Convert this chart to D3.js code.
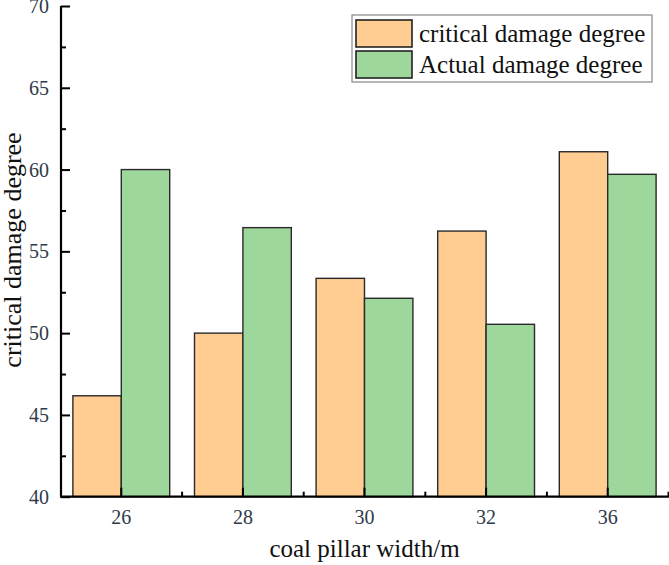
<!DOCTYPE html>
<html><head><meta charset="utf-8">
<script src="https://cdn.jsdelivr.net/npm/d3@7"></script>
<style>html,body{margin:0;padding:0;background:#fff;}svg{display:block;}</style>
</head><body>
<script>
const categories = ["26", "28", "30", "32", "36"];
const seriesNames = ["critical damage degree", "Actual damage degree"];
const criticalValues = [46.17, 50.0, 53.35, 56.24, 61.09];
const actualValues = [60.0, 56.45, 52.13, 50.54, 59.71];
const yTickValues = [40, 45, 50, 55, 60, 65, 70];
const colors = ["#FFCC91", "#9DD79B"];

const W = 669, H = 565;
const svg = d3.select("body").append("svg").attr("width", W).attr("height", H);
const font = "'Liberation Serif','Times New Roman',serif";

const x0 = d3.scaleBand().domain(categories).range([60.5, 668.5]).paddingInner(0).paddingOuter(0);
const x1 = d3.scaleBand().domain(seriesNames).range([0, x0.bandwidth()]).paddingInner(0).paddingOuter(0.256);
const y = d3.scaleLinear().domain([40, 70]).range([496.7, 6]);

const data = categories.map((c, i) => ({cat: c, vals: [criticalValues[i], actualValues[i]]}));

// bars
const g = svg.append("g");
data.forEach(d => {
  d.vals.forEach((v, j) => {
    g.append("rect")
      .attr("x", x0(d.cat) + x1(seriesNames[j]))
      .attr("y", y(v))
      .attr("width", x1.bandwidth())
      .attr("height", y(40) - y(v))
      .attr("fill", colors[j])
      .attr("stroke", "#2a2a2a")
      .attr("stroke-width", 1.4);
  });
});

// y axis
const yAxis = d3.axisRight(y).tickValues(yTickValues).tickSize(9).tickFormat("");
const ya = svg.append("g").attr("transform", "translate(61,0)").call(yAxis);
ya.select(".domain").attr("stroke", "#000").attr("stroke-width", 2.2).attr("d", `M0,${y(70)}V${y(40)}`);
ya.selectAll(".tick line").attr("stroke", "#000").attr("stroke-width", 2);
const yMinor = d3.axisRight(y).tickValues([42.5, 47.5, 52.5, 57.5, 62.5, 67.5]).tickSize(5).tickFormat("");
const ym = svg.append("g").attr("transform", "translate(61,0)").call(yMinor);
ym.select(".domain").remove();
ym.selectAll(".tick line").attr("stroke", "#000").attr("stroke-width", 2);
svg.append("g").selectAll("text").data(yTickValues).join("text")
  .attr("x", 49).attr("y", d => y(d)).attr("dy", "0.35em")
  .attr("text-anchor", "end").attr("font-family", font).attr("font-size", 20)
  .attr("fill", "#2f3a4a").text(d => d);

// x axis
const xb = svg.append("g").attr("transform", `translate(0,${y(40)})`);
xb.append("path").attr("d", `M60,0H669`).attr("stroke", "#000").attr("stroke-width", 2.2).attr("fill", "none");
xb.selectAll("line.maj").data(categories).join("line")
  .attr("x1", d => x0(d) + x0.bandwidth() / 2).attr("x2", d => x0(d) + x0.bandwidth() / 2)
  .attr("y1", 0).attr("y2", -9).attr("stroke", "#000").attr("stroke-width", 2);
xb.selectAll("line.min").data(categories).join("line")
  .attr("x1", d => x0(d) + x0.bandwidth()).attr("x2", d => x0(d) + x0.bandwidth())
  .attr("y1", 0).attr("y2", -5).attr("stroke", "#000").attr("stroke-width", 2);
xb.selectAll("text").data(categories).join("text")
  .attr("x", d => x0(d) + x0.bandwidth() / 2).attr("y", 27)
  .attr("text-anchor", "middle").attr("font-family", font).attr("font-size", 20)
  .attr("fill", "#2f3a4a").text(d => d);

// axis titles
svg.append("text").attr("x", 364.5).attr("y", 557).attr("text-anchor", "middle")
  .attr("font-family", font).attr("font-size", 25).attr("fill", "#111").text("coal pillar width/m");
svg.append("text").attr("transform", `translate(21,250) rotate(-90)`).attr("text-anchor", "middle")
  .attr("font-family", font).attr("font-size", 26).attr("fill", "#111").text("critical damage degree");

// legend
const lg = svg.append("g");
lg.append("rect").attr("x", 352).attr("y", 15).attr("width", 300).attr("height", 67)
  .attr("fill", "#fff").attr("stroke", "#888").attr("stroke-width", 1.2);
seriesNames.forEach((s, i) => {
  lg.append("rect").attr("x", 356).attr("y", 20 + i * 31).attr("width", 56).attr("height", 27)
    .attr("fill", colors[i]).attr("stroke", "#222").attr("stroke-width", 1.6);
  lg.append("text").attr("x", 419).attr("y", 42 + i * 31)
    .attr("font-family", font).attr("font-size", 25).attr("fill", "#111").text(s);
});
</script>
</body></html>
